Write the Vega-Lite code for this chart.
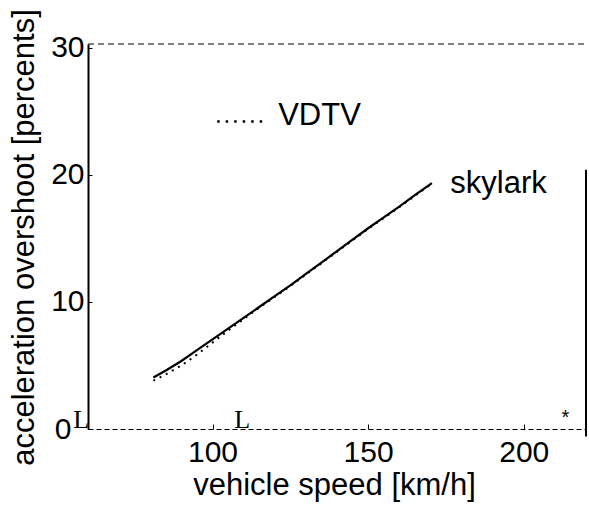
{
  "$schema": "https://vega.github.io/schema/vega-lite/v6.json",
  "width": 498,
  "height": 385,
  "autosize": "none",
  "padding": {"left": 88, "top": 44, "right": 3, "bottom": 81},
  "background": "white",
  "config": {
    "view": {"stroke": null},
    "font": "Liberation Sans",
    "axis": {
      "labelFont": "Liberation Sans",
      "titleFont": "Liberation Sans",
      "labelColor": "black",
      "titleColor": "black",
      "domainColor": "black",
      "tickColor": "black",
      "grid": false,
      "labelFontWeight": "normal",
      "titleFontWeight": "normal"
    }
  },
  "datasets": {
    "curves": [
      {"series": "skylark", "speed": 81, "overshoot": 4.05},
      {"series": "skylark", "speed": 85, "overshoot": 4.6},
      {"series": "skylark", "speed": 90, "overshoot": 5.35},
      {"series": "skylark", "speed": 95, "overshoot": 6.2},
      {"series": "skylark", "speed": 100, "overshoot": 7.05},
      {"series": "skylark", "speed": 105, "overshoot": 7.9},
      {"series": "skylark", "speed": 110, "overshoot": 8.75},
      {"series": "skylark", "speed": 115, "overshoot": 9.6},
      {"series": "skylark", "speed": 120, "overshoot": 10.45},
      {"series": "skylark", "speed": 125, "overshoot": 11.3},
      {"series": "skylark", "speed": 130, "overshoot": 12.2},
      {"series": "skylark", "speed": 135, "overshoot": 13.1},
      {"series": "skylark", "speed": 140, "overshoot": 14.0},
      {"series": "skylark", "speed": 145, "overshoot": 14.9},
      {"series": "skylark", "speed": 150, "overshoot": 15.8},
      {"series": "skylark", "speed": 155, "overshoot": 16.65},
      {"series": "skylark", "speed": 160, "overshoot": 17.5},
      {"series": "skylark", "speed": 165, "overshoot": 18.4},
      {"series": "skylark", "speed": 170.5, "overshoot": 19.35},
      {"series": "VDTV", "speed": 81, "overshoot": 3.8},
      {"series": "VDTV", "speed": 85, "overshoot": 4.3},
      {"series": "VDTV", "speed": 90, "overshoot": 5.0},
      {"series": "VDTV", "speed": 95, "overshoot": 5.85},
      {"series": "VDTV", "speed": 100, "overshoot": 6.8},
      {"series": "VDTV", "speed": 105, "overshoot": 7.75},
      {"series": "VDTV", "speed": 110, "overshoot": 8.65},
      {"series": "VDTV", "speed": 115, "overshoot": 9.55},
      {"series": "VDTV", "speed": 120, "overshoot": 10.4},
      {"series": "VDTV", "speed": 125, "overshoot": 11.25},
      {"series": "VDTV", "speed": 130, "overshoot": 12.15},
      {"series": "VDTV", "speed": 135, "overshoot": 13.05},
      {"series": "VDTV", "speed": 140, "overshoot": 13.95},
      {"series": "VDTV", "speed": 145, "overshoot": 14.85},
      {"series": "VDTV", "speed": 150, "overshoot": 15.75},
      {"series": "VDTV", "speed": 155, "overshoot": 16.6},
      {"series": "VDTV", "speed": 160, "overshoot": 17.45},
      {"series": "VDTV", "speed": 165, "overshoot": 18.35},
      {"series": "VDTV", "speed": 170.5, "overshoot": 19.3}
    ],
    "legendLine": [
      {"speed": 101.5, "overshoot": 24.2},
      {"speed": 116.3, "overshoot": 24.2}
    ],
    "seriesLabels": [
      {"label": "VDTV", "speed": 121.1, "overshoot": 23.94},
      {"label": "skylark", "speed": 176.4, "overshoot": 18.58}
    ],
    "marksL": [
      {"label": "L", "speed": 57.8, "overshoot": 0.08},
      {"label": "L", "speed": 109.5, "overshoot": 0.08}
    ],
    "star": [
      {"label": "*", "speed": 213.4, "overshoot": 0.87}
    ],
    "topBorder": [
      {"speed": 60, "end": 220, "overshoot": 30.3}
    ],
    "rightBorder": [
      {"speed": 220, "overshoot": -0.6, "high": 20.4}
    ]
  },
  "encoding": {
    "x": {
      "field": "speed", "type": "quantitative",
      "scale": {"domain": [60, 220], "nice": false, "zero": false},
      "axis": {
        "values": [100, 150, 200],
        "title": "vehicle speed [km/h]",
        "titleFontSize": 31,
        "titleX": 246,
        "titleY": 65,
        "titleBaseline": "alphabetic",
        "titleAlign": "center",
        "labelFontSize": 30,
        "labelBaseline": "alphabetic",
        "labelPadding": 37,
        "tickSize": -5,
        "domainDash": [5, 3],
        "domainWidth": 1.2
      }
    },
    "y": {
      "field": "overshoot", "type": "quantitative",
      "scale": {"domain": [0, 30.3], "nice": false},
      "axis": {
        "values": [0, 10, 20, 30],
        "title": "acceleration overshoot [percents]",
        "titleFontSize": 31,
        "titleAngle": 270,
        "titleX": -55,
        "titleY": 193,
        "titleBaseline": "alphabetic",
        "titleAlign": "center",
        "labelFontSize": 30,
        "labelPadding": {"condition": {"test": "datum.value == 0", "value": 21}, "value": 8},
        "tickSize": -4,
        "domainWidth": 2
      }
    }
  },
  "layer": [
    {
      "data": {"name": "curves"},
      "transform": [{"filter": "datum.series == 'skylark'"}],
      "mark": {"type": "line", "color": "black", "strokeWidth": 2.2}
    },
    {
      "data": {"name": "curves"},
      "transform": [{"filter": "datum.series == 'VDTV'"}],
      "mark": {"type": "line", "color": "black", "strokeWidth": 2, "strokeDash": [2, 5]}
    },
    {
      "data": {"name": "legendLine"},
      "mark": {"type": "line", "color": "black", "strokeWidth": 2.5, "strokeDash": [2.5, 6]}
    },
    {
      "data": {"name": "seriesLabels"},
      "mark": {"type": "text", "font": "Liberation Sans", "fontSize": 31, "align": "left", "baseline": "alphabetic", "color": "black"},
      "encoding": {"text": {"field": "label"}}
    },
    {
      "data": {"name": "marksL"},
      "mark": {"type": "text", "font": "Liberation Serif", "fontSize": 26, "align": "center", "baseline": "alphabetic", "color": "black"},
      "encoding": {"text": {"field": "label"}}
    },
    {
      "data": {"name": "star"},
      "mark": {"type": "text", "font": "Liberation Sans", "fontSize": 20, "align": "center", "baseline": "middle", "color": "black"},
      "encoding": {"text": {"field": "label"}}
    },
    {
      "data": {"name": "topBorder"},
      "mark": {"type": "rule", "color": "black", "strokeWidth": 1.2, "strokeDash": [6, 4]},
      "encoding": {"x2": {"field": "end"}}
    },
    {
      "data": {"name": "rightBorder"},
      "mark": {"type": "rule", "color": "black", "strokeWidth": 2},
      "encoding": {"y2": {"field": "high"}}
    }
  ]
}
